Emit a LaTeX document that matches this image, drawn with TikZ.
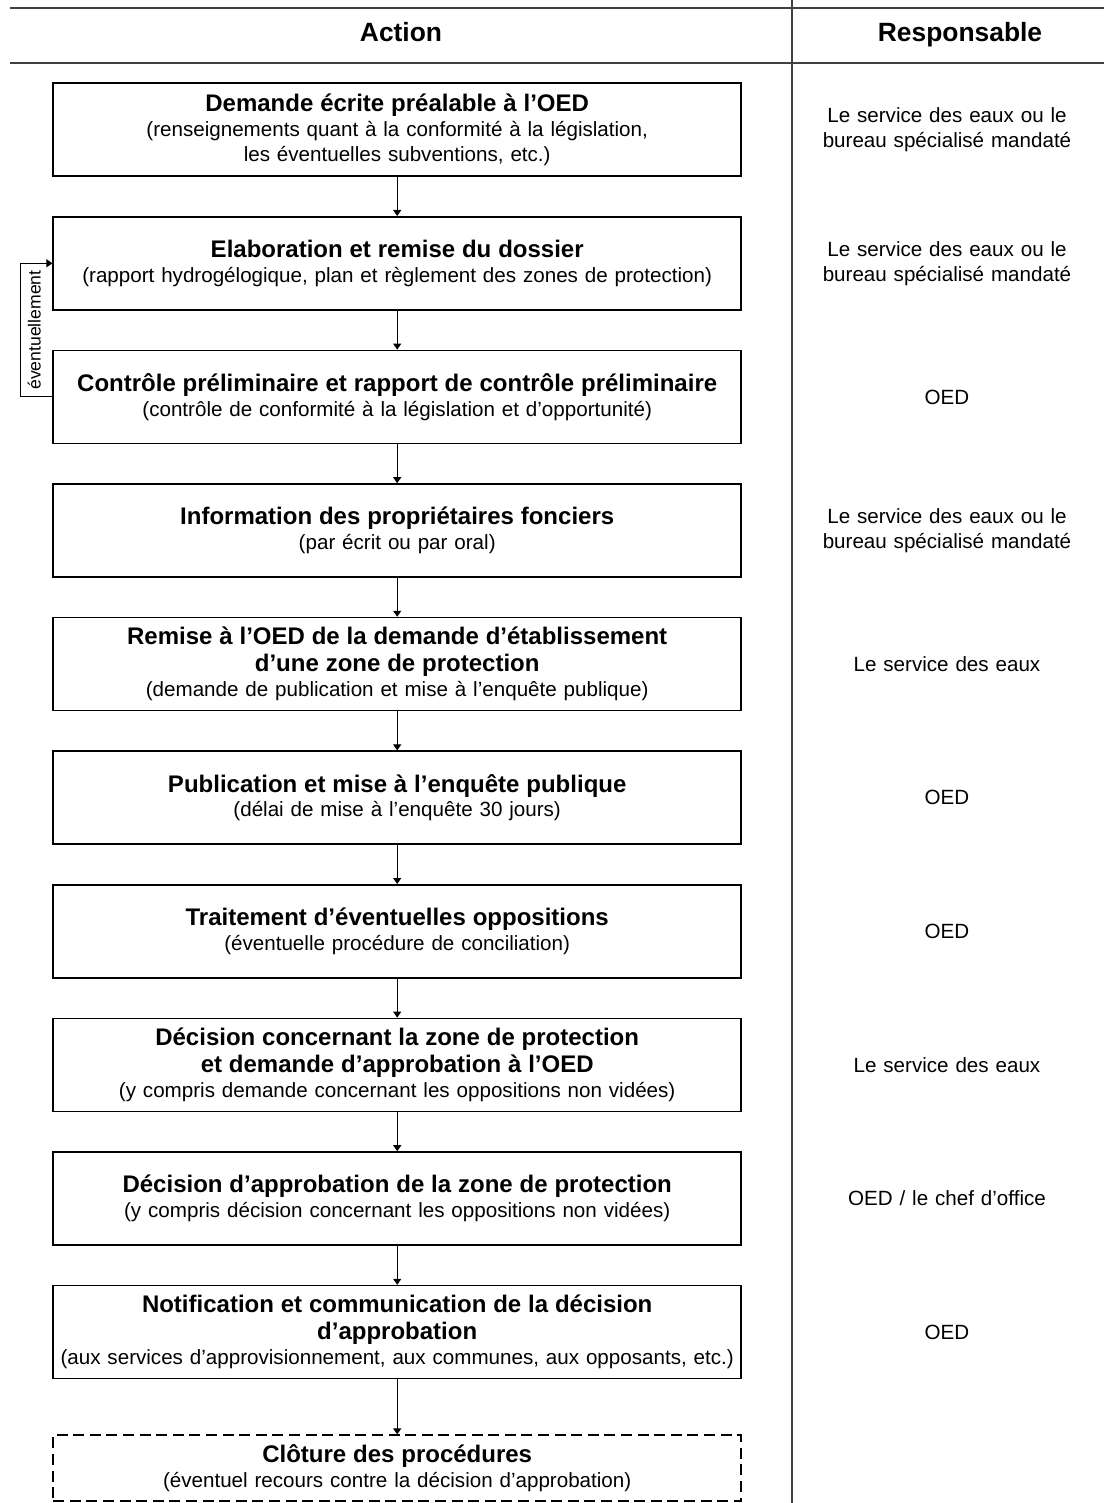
\documentclass[tikz,border=0pt]{standalone}
\usepackage{fontspec}
\setmainfont{Liberation Sans}
\usepackage{tikz}
\usetikzlibrary{matrix,arrows.meta}

\newcommand{\titlefont}{\bfseries\fontsize{12}{13.6}\selectfont}
\newcommand{\subfont}{\mdseries\fontsize{10.3}{12.4}\selectfont}
\newcommand{\headfont}{\bfseries\fontsize{13.2}{15}\selectfont}
\newcommand{\notefont}{\fontsize{8.8}{10}\selectfont}
\newcommand{\steptext}[2]{\parindent=0pt\titlefont #1\par\subfont #2}

\tikzset{
  stepbox/.style={draw, line width=0.8pt, anchor=center, align=center, text width=342pt, inner xsep=1pt, inner ysep=2pt, minimum height=46.5pt, font=\subfont},
  lastbox/.style={dash pattern=on 5.5pt off 2.8pt, inner ysep=0pt, minimum height=33pt},
  resp/.style={anchor=center, align=center, text width=140pt, inner sep=0pt, font=\subfont},
  flow/.style={-{Triangle[length=3pt,width=4pt]}, line width=0.5pt}
}

\begin{document}
\begin{tikzpicture}[x=0.5pt, y=-0.5pt]
  \useasboundingbox (0,0) rectangle (1104,1503);
  \draw[line width=0.7pt, black!75] (10,8) -- (1104,8) (10,63) -- (1104,63) (792,0) -- (792,1503);
  \node[font=\headfont, anchor=base] (action) at (401,42) {Action};
  \node[font=\headfont, anchor=base] (resp) at (960,42) {Responsable};
  \matrix (m) [matrix of nodes, anchor=north west, inner sep=0pt, row sep=19.5pt, column sep=32.5pt,
    column 1/.style={nodes={stepbox}}, column 2/.style={nodes={resp}}] at (52,82)
  {
{\steptext{Demande écrite préalable à l’OED}{(renseignements quant à la conformité à la législation,\\les éventuelles subventions, etc.)}} & {Le service des eaux ou le\\bureau spécialisé mandaté} \\
{\steptext{Elaboration et remise du dossier}{(rapport hydrogélogique, plan et règlement des zones de protection)}} & {Le service des eaux ou le\\bureau spécialisé mandaté} \\
{\steptext{Contrôle préliminaire et rapport de contrôle préliminaire}{(contrôle de conformité à la législation et d’opportunité)}} & OED \\
{\steptext{Information des propriétaires fonciers}{(par écrit ou par oral)}} & {Le service des eaux ou le\\bureau spécialisé mandaté} \\
{\steptext{Remise à l’OED de la demande d’établissement\\d’une zone de protection}{(demande de publication et mise à l’enquête publique)}} & Le service des eaux \\
{\steptext{Publication et mise à l’enquête publique}{(délai de mise à l’enquête 30 jours)}} & OED \\
{\steptext{Traitement d’éventuelles oppositions}{(éventuelle procédure de conciliation)}} & OED \\
{\steptext{Décision concernant la zone de protection\\et demande d’approbation à l’OED}{(y compris demande concernant les oppositions non vidées)}} & Le service des eaux \\
{\steptext{Décision d’approbation de la zone de protection}{(y compris décision concernant les oppositions non vidées)}} & OED / le chef d’office \\
{\steptext{Notification et communication de la décision\\d’approbation}{(aux services d’approvisionnement, aux communes, aux opposants, etc.)}} & OED \\[8pt]
|[lastbox]| {\steptext{Clôture des procédures}{(éventuel recours contre la décision d’approbation)}} & \\
};
  \path[flow]
  (m-1-1) edge (m-2-1)
  (m-2-1) edge (m-3-1)
  (m-3-1) edge (m-4-1)
  (m-4-1) edge (m-5-1)
  (m-5-1) edge (m-6-1)
  (m-6-1) edge (m-7-1)
  (m-7-1) edge (m-8-1)
  (m-8-1) edge (m-9-1)
  (m-9-1) edge (m-10-1)
  (m-10-1) edge (m-11-1)
;
  \draw[flow] (m-3-1.west) -- ++(-32,0) |- node[pos=0.25, rotate=90, anchor=north, font=\notefont] {éventuellement} (m-2-1.west);
\end{tikzpicture}
\end{document}
